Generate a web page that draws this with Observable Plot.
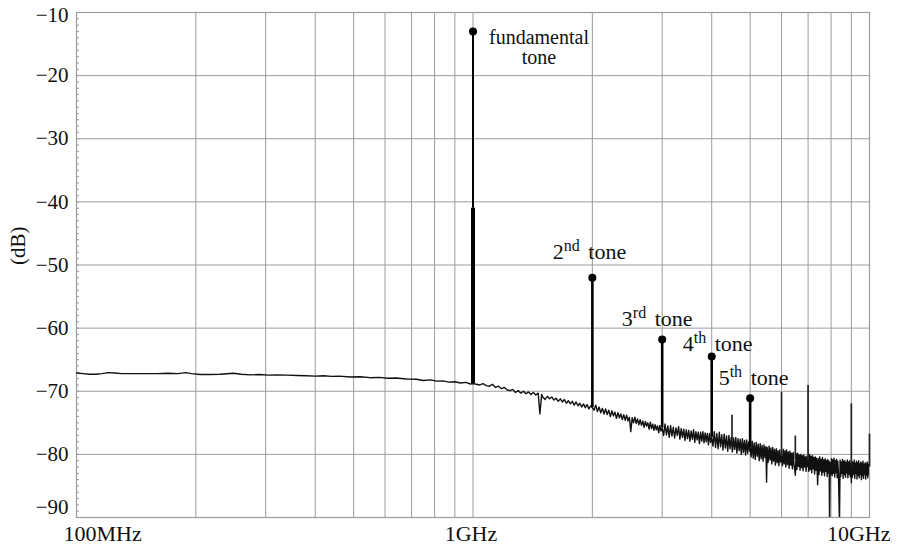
<!DOCTYPE html>
<html><head><meta charset="utf-8">
<script src="https://cdn.jsdelivr.net/npm/d3@7"></script>
<script src="https://cdn.jsdelivr.net/npm/@observablehq/plot@0.6"></script>
<style>html,body{margin:0;padding:0;background:#fff}#chart svg{display:block}</style>
</head><body><div id="chart"></div>
<script>
// measured spectrum trace: [frequency GHz, level dB]
const trace = [
[0.100,-67.1],[0.104,-67.2],[0.108,-67.3],[0.112,-67.3],[0.116,-67.2],[0.120,-67.05],[0.125,-67.1],[0.130,-67.2],[0.140,-67.2],[0.150,-67.2],
[0.160,-67.2],[0.170,-67.15],[0.180,-67.2],[0.189,-67.05],[0.195,-67.2],[0.205,-67.35],[0.215,-67.35],[0.230,-67.3],[0.249,-67.15],[0.260,-67.3],
[0.275,-67.4],[0.290,-67.35],[0.305,-67.45],[0.320,-67.4],[0.340,-67.45],[0.360,-67.5],[0.380,-67.55],[0.400,-67.6],[0.420,-67.55],[0.440,-67.65],
[0.460,-67.6],[0.490,-67.75],[0.520,-67.7],[0.550,-67.85],[0.580,-67.8],[0.610,-67.95],[0.640,-67.9],[0.680,-68.05],[0.720,-68.1],[0.750,-68.3],
[0.780,-68.2],[0.810,-68.4],[0.840,-68.35],[0.870,-68.55],[0.900,-68.5],[0.930,-68.7],[0.960,-68.6],[0.985,-68.85],[1.000,-68.8],
[1.02,-68.9],[1.04,-69.0],[1.06,-68.8],[1.08,-69.1],[1.10,-69.2],[1.12,-68.9],[1.14,-69.4],[1.16,-69.2],[1.18,-69.6],[1.20,-69.4],
[1.22,-69.8],[1.24,-69.9],[1.26,-69.7],[1.28,-70.2],[1.30,-69.9],[1.32,-70.3],[1.34,-70.0],[1.36,-70.4],[1.38,-70.1],[1.40,-70.5],
[1.42,-70.2],[1.44,-70.6],[1.46,-70.3],[1.475,-73.6],[1.49,-70.5],[1.50,-70.9],[1.52,-71.3],[1.54,-70.8],[1.56,-71.2],[1.58,-70.9],
[1.60,-71.4],[1.62,-71.1],[1.64,-71.6],[1.66,-71.2],[1.68,-71.7],[1.70,-71.3],[1.72,-71.9],[1.74,-71.5],[1.76,-72.0],[1.78,-71.6],
[1.80,-72.2],[1.82,-71.7],[1.84,-72.3],[1.86,-71.9],[1.88,-72.5],[1.90,-72.0],[1.92,-72.6],[1.94,-72.1],[1.96,-72.8],[1.98,-72.3],
[2.00,-72.6],[2.02,-73.0],[2.04,-72.2],[2.06,-73.2],[2.08,-72.5],[2.10,-73.4],[2.12,-72.7],[2.14,-73.6],[2.16,-72.8],[2.18,-73.7],
[2.20,-73.0],[2.22,-74.0],[2.24,-73.1],[2.26,-73.9],[2.28,-73.3],[2.30,-74.3],[2.32,-73.4],[2.34,-74.2],[2.36,-73.6],[2.38,-74.5],
[2.40,-73.7],[2.42,-74.6],[2.44,-73.8],[2.46,-74.7],[2.48,-74.1],[2.50,-76.4],[2.52,-74.2],[2.54,-75.0],[2.56,-74.1],[2.58,-75.1],
[2.60,-74.4],[2.62,-75.3],[2.64,-74.5],[2.66,-75.4],[2.68,-74.7],[2.70,-75.7],[2.72,-74.8],[2.74,-75.5],[2.76,-75.0],[2.78,-76.0],
[2.80,-74.9],[2.82,-75.9],[2.84,-75.2],[2.86,-76.2],[2.88,-75.3],[2.90,-76.1],[2.92,-75.5],[2.94,-76.6],[2.96,-75.4],[2.98,-76.3],
[3.00,-75.8],[3.025,-77.0],[3.05,-75.2],[3.075,-76.9],[3.10,-75.5],[3.125,-77.3],[3.15,-75.4],[3.175,-77.1],[3.20,-75.7],[3.225,-77.4],
[3.25,-75.8],[3.275,-77.0],[3.30,-75.6],[3.325,-77.6],[3.35,-75.9],[3.375,-77.3],[3.40,-76.0],[3.425,-77.8],[3.45,-76.1],[3.475,-77.5],
[3.50,-76.2],[3.525,-77.9],[3.55,-76.3],[3.575,-77.6],[3.60,-76.1],[3.625,-78.1],[3.65,-76.4],[3.675,-77.7],[3.70,-76.5],[3.725,-78.3],
[3.75,-76.5],[3.775,-77.9],[3.80,-76.4],[3.825,-78.2],[3.85,-76.6],[3.875,-78.0],[3.90,-76.7],[3.925,-78.5],[3.95,-76.7],[3.975,-78.1],
[4.00,-77.3],[4.03,-78.7],[4.06,-76.4],[4.09,-78.9],[4.12,-76.7],[4.15,-79.1],[4.18,-76.5],[4.21,-78.8],[4.24,-76.9],[4.27,-79.3],
[4.30,-76.8],[4.33,-79.0],[4.36,-77.1],[4.39,-79.5],[4.42,-77.0],[4.45,-79.1],[4.48,-77.3],[4.51,-79.6],[4.54,-77.4],[4.57,-79.2],
[4.60,-77.3],[4.63,-79.8],[4.66,-77.5],[4.69,-79.4],[4.72,-77.6],[4.75,-80.0],[4.78,-77.5],[4.81,-79.7],[4.84,-77.8],[4.87,-80.1],
[4.90,-77.7],[4.93,-79.8],[4.96,-78.0],[4.99,-79.5],[5.00,-78.9],[5.03,-80.4],[5.06,-77.9],[5.09,-80.6],[5.12,-78.2],[5.15,-80.8],
[5.18,-78.1],[5.21,-80.3],[5.24,-78.4],[5.27,-81.0],[5.30,-78.3],[5.33,-80.7],[5.36,-78.6],[5.39,-81.1],[5.42,-78.5],[5.45,-80.5],
[5.48,-78.8],[5.50,-84.4],[5.52,-78.9],[5.55,-81.3],[5.58,-78.7],[5.61,-80.9],[5.64,-79.0],[5.67,-81.5],[5.70,-78.9],[5.73,-81.1],
[5.76,-79.2],[5.79,-81.7],[5.82,-79.1],[5.85,-81.3],[5.88,-79.4],[5.91,-81.8],[5.94,-79.3],[5.97,-81.2],[6.00,-80.2],[6.03,-81.8],
[6.06,-79.2],[6.09,-81.5],[6.12,-79.4],[6.15,-82.0],[6.18,-79.3],[6.21,-81.6],[6.24,-79.6],[6.27,-82.2],[6.30,-79.5],[6.33,-81.7],
[6.36,-79.8],[6.39,-82.3],[6.42,-79.7],[6.45,-81.5],[6.50,-83.3],[6.53,-79.9],[6.56,-82.4],[6.59,-79.8],[6.62,-81.9],[6.65,-80.1],
[6.68,-82.5],[6.71,-80.0],[6.74,-82.1],[6.77,-80.2],[6.80,-82.6],[6.83,-80.1],[6.86,-82.0],[6.89,-80.4],[6.92,-82.7],[6.95,-80.3],
[6.98,-81.9],[7.00,-81.0],[7.03,-82.7],[7.06,-80.0],[7.09,-82.4],[7.12,-80.3],[7.15,-82.9],[7.18,-80.2],[7.21,-82.3],[7.24,-80.5],
[7.27,-83.1],[7.30,-80.4],[7.33,-82.5],[7.36,-80.6],[7.40,-84.8],[7.43,-80.7],[7.46,-83.2],[7.49,-80.4],[7.52,-82.6],[7.55,-80.8],
[7.58,-83.3],[7.61,-80.5],[7.64,-82.8],[7.67,-80.9],[7.70,-83.4],[7.73,-80.7],[7.76,-82.7],[7.79,-81.0],[7.82,-83.5],[7.85,-80.8],
[7.88,-82.9],[7.91,-81.1],[7.93,-91.0],[7.96,-81.3],[7.99,-83.1],[8.02,-80.7],[8.05,-83.4],[8.08,-80.9],[8.11,-83.0],[8.14,-80.6],
[8.17,-83.6],[8.20,-81.0],[8.23,-82.9],[8.26,-80.8],[8.29,-83.7],[8.32,-81.1],[8.35,-83.1],[8.40,-91.0],[8.43,-80.9],[8.46,-83.5],
[8.49,-81.2],[8.52,-83.0],[8.55,-80.8],[8.58,-83.8],[8.61,-81.1],[8.64,-83.2],[8.67,-81.0],[8.70,-83.6],[8.73,-81.3],[8.76,-82.9],
[8.79,-80.9],[8.82,-83.7],[8.85,-81.2],[8.88,-83.1],[8.91,-81.0],[8.94,-83.5],[8.97,-81.4],[9.00,-84.5],[9.03,-81.1],[9.06,-83.6],
[9.09,-81.3],[9.12,-83.1],[9.15,-80.9],[9.18,-83.8],[9.21,-81.4],[9.24,-83.0],[9.27,-81.1],[9.30,-83.9],[9.33,-81.3],[9.36,-83.3],
[9.39,-81.0],[9.42,-83.7],[9.45,-81.5],[9.48,-83.2],[9.51,-81.2],[9.54,-84.0],[9.57,-81.4],[9.60,-83.4],[9.63,-81.1],[9.66,-83.8],
[9.69,-81.6],[9.72,-83.1],[9.75,-81.3],[9.78,-83.9],[9.81,-81.5],[9.84,-83.3],[9.87,-81.2],[9.90,-83.7],[9.93,-81.6],[9.96,-83.2],[9.99,-81.4]
];

// harmonic tones
const toneGHz    = [1, 2, 3, 4, 5];
const toneDB     = [-13, -52, -61.8, -64.5, -71.1];
const toneBaseDB = [-68.8, -72.6, -75.8, -77.3, -78.9];
const fundamentalSplitDB = -41;

// other spurs (no markers)
const spurGHz    = [4.5, 6, 6.5, 7, 9, 10];
const spurTopDB  = [-73.8, -70.2, -77.1, -69.1, -72.0, -76.8];
const spurBaseDB = [-78.5, -80.3, -80.8, -81.0, -82.0, -82.0];

// annotations
const labelNum  = ["2", "3", "4", "5"];
const labelSup  = ["nd", "rd", "th", "th"];
const labelWord = "tone";
const labelGHz  = [1.59, 2.373, 3.381, 4.165];
const labelDB   = [-49.1, -59.6, -63.6, -69.0];
const fundLabelText = "fundamental\ntone";
const fundLabelGHz  = 1.467;
const fundLabelDB   = -18.1;

// axes
const xTickGHz  = [0.1, 1, 10];
const xTickText = ["100MHz", "1GHz", "10GHz"];
const xGridGHz  = [0.1,0.2,0.3,0.4,0.5,0.6,0.7,0.8,0.9,1,2,3,4,5,6,7,8,9,10];
const yTickDB   = [-10,-20,-30,-40,-50,-60,-70,-80,-90];
const yMinorDB  = d3.range(-89, -10, 1);

const traceRows = trace.map(([f, db]) => ({f, db}));
const toneRows = toneGHz.map((f, i) => ({f, top: toneDB[i], base: toneBaseDB[i], split: fundamentalSplitDB}));
const spurRows = spurGHz.map((f, i) => ({f, top: spurTopDB[i], base: spurBaseDB[i]}));
const labelText = labelNum.map((n, i) => n + labelSup[i] + " " + labelWord);
const labelRows = labelNum.map((n, i) => ({f: labelGHz[i], db: labelDB[i], t: labelText[i]}));
const fundRows = [{f: fundLabelGHz, db: fundLabelDB, t: fundLabelText}];
const xLabRows = xTickGHz.map((f, i) => ({f, t: xTickText[i]}));
const fmtY = d => "\u2212" + Math.abs(d);
const GRID = "#9c9c9c";

const chart = Plot.plot({
  width: 898, height: 546,
  marginLeft: 76, marginRight: 29, marginTop: 12, marginBottom: 29,
  style: {fontFamily: "'Liberation Serif', 'Times New Roman', serif", background: "#fff", color: "#1a1a1a"},
  x: {type: "log", domain: [0.1, 10], axis: null},
  y: {domain: [-90, -10], axis: null},
  marks: [
    Plot.ruleX(xGridGHz, {x: d => d, stroke: GRID, strokeWidth: 1}),
    Plot.ruleY(yTickDB, {y: d => d, stroke: GRID, strokeWidth: 1}),
    Plot.tickY(yMinorDB, {y: d => d, stroke: GRID, strokeWidth: 1, insetRight: 898 - 76 - 29 - 3}),
    Plot.frame({stroke: GRID, strokeWidth: 1.2}),
    Plot.line(traceRows, {x: "f", y: "db", stroke: "#111", strokeWidth: 1.4, clip: true}),
    Plot.ruleX(spurRows, {x: "f", y1: "base", y2: "top", stroke: "#222", strokeWidth: 1.7}),
    Plot.ruleX(toneRows, {filter: d => d.f !== 1, x: "f", y1: "base", y2: "top", stroke: "#000", strokeWidth: 2.6}),
    Plot.ruleX(toneRows, {filter: d => d.f === 1, x: "f", y1: "base", y2: "split", stroke: "#000", strokeWidth: 4}),
    Plot.ruleX(toneRows, {filter: d => d.f === 1, x: "f", y1: "split", y2: "top", stroke: "#000", strokeWidth: 2}),
    Plot.dot(toneRows, {x: "f", y: "top", r: 4, fill: "#000", stroke: null}),
    Plot.text(fundRows, {x: "f", y: "db", text: "t", textAnchor: "middle", lineAnchor: "bottom", lineHeight: 1, fontSize: 20, fill: "#111"}),
    Plot.text(labelRows, {x: "f", y: "db", text: "t", textAnchor: "start", lineAnchor: "bottom", fontSize: 22, fill: "#111"}),
    // y tick labels
    Plot.text(yTickDB, {filter: d => d !== -10 && d !== -90, y: d => d, text: fmtY, frameAnchor: "left", textAnchor: "end", dx: -8, fontSize: 21, fill: "#111"}),
    Plot.text(yTickDB, {filter: d => d === -10, y: d => d, text: fmtY, frameAnchor: "left", textAnchor: "end", dx: -8, dy: 3, fontSize: 21, fill: "#111"}),
    Plot.text(yTickDB, {filter: d => d === -90, y: d => d, text: fmtY, frameAnchor: "left", textAnchor: "end", dx: -8, dy: -10, fontSize: 21, fill: "#111"}),
    // x tick labels
    Plot.text(xLabRows, {filter: d => d.f === 0.1, x: "f", text: "t", frameAnchor: "bottom", textAnchor: "start", lineAnchor: "bottom", dx: -13, dy: 23, fontSize: 22, fill: "#111"}),
    Plot.text(xLabRows, {filter: d => d.f === 1, x: "f", text: "t", frameAnchor: "bottom", textAnchor: "middle", lineAnchor: "bottom", dx: -2, dy: 23, fontSize: 22, fill: "#111"}),
    Plot.text(xLabRows, {filter: d => d.f === 10, x: "f", text: "t", frameAnchor: "bottom", textAnchor: "end", lineAnchor: "bottom", dx: 21, dy: 23, fontSize: 22, fill: "#111"}),
    // y axis title
    Plot.text(["(dB)"], {text: d => d, frameAnchor: "left", rotate: -90, dx: -58, fontSize: 21, fill: "#111"})
  ]
});

// superscripts in harmonic labels
const NS = "http://www.w3.org/2000/svg";
chart.querySelectorAll("text").forEach(el => {
  const i = labelText.indexOf(el.textContent);
  if (i < 0) return;
  el.textContent = "";
  const a = document.createElementNS(NS, "tspan");
  a.textContent = labelNum[i];
  const b = document.createElementNS(NS, "tspan");
  b.textContent = labelSup[i];
  b.setAttribute("font-size", "16");
  b.setAttribute("dy", "-8");
  const c = document.createElementNS(NS, "tspan");
  c.textContent = "\u00a0" + labelWord;
  c.setAttribute("dy", "8");
  c.setAttribute("dx", "3");
  el.append(a, b, c);
});

document.getElementById("chart").append(chart);
</script>
</body></html>
